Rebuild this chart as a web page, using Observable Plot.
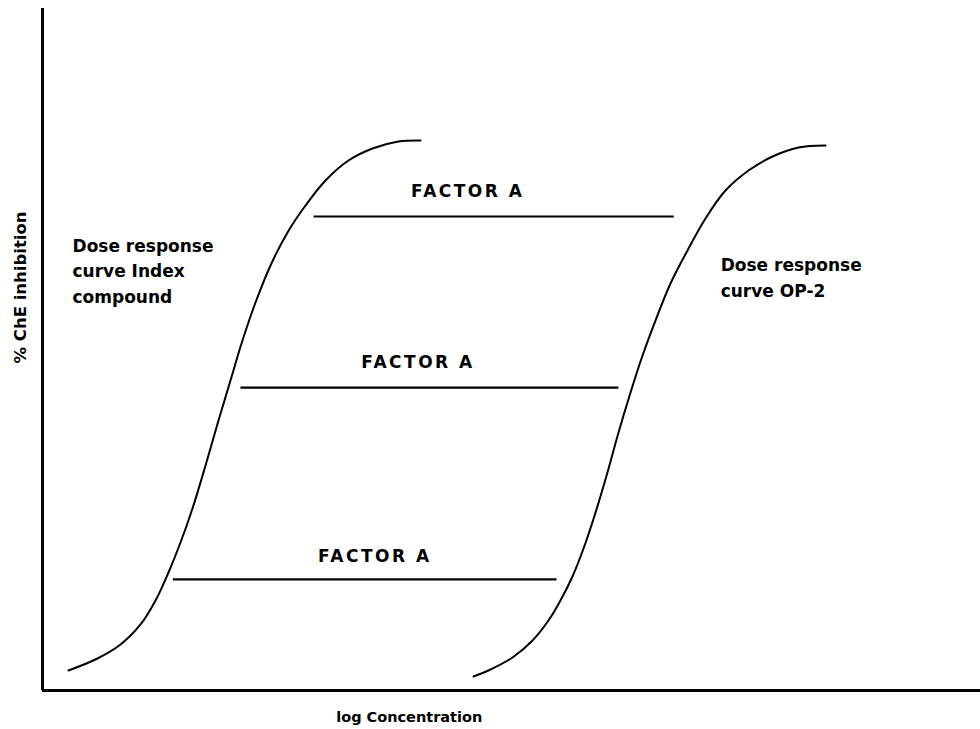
<!DOCTYPE html>
<html>
<head>
<meta charset="utf-8">
<script src="https://cdn.jsdelivr.net/npm/d3@7"></script>
<script src="https://cdn.jsdelivr.net/npm/@observablehq/plot@0.6"></script>
<style>
  html, body { margin: 0; padding: 0; background: #fff; }
  #chart svg { display: block; }
</style>
</head>
<body>
<div id="chart"></div>
<script>
// Dose response curve, index compound (x: log concentration units, y: % inhibition)
const indexX = [2.77, 5.86, 8.32, 10.45, 12.05, 13.43, 14.71, 15.99, 17.38, 18.76, 20.04, 21.32, 22.71, 24.31, 26.12, 28.04, 30.17, 32.62, 35.18, 37.95, 40.30];
const indexY = [2.93, 4.69, 6.74, 9.68, 13.20, 17.30, 21.70, 26.69, 32.99, 39.59, 45.45, 51.32, 56.89, 62.32, 67.16, 71.11, 74.78, 77.71, 79.47, 80.50, 80.65];
// Dose response curve, OP-2
const op2X = [45.95, 47.76, 50.11, 52.24, 53.94, 55.22, 56.50, 57.68, 58.96, 60.23, 61.41, 62.69, 63.97, 65.35, 66.95, 68.76, 70.68, 72.81, 75.27, 77.83, 80.60, 83.48];
const op2Y = [2.05, 3.08, 4.84, 7.33, 10.26, 13.20, 16.72, 20.82, 26.10, 31.96, 37.83, 43.70, 49.12, 54.25, 59.68, 64.52, 69.21, 73.31, 76.25, 78.30, 79.62, 79.91];
// "FACTOR A" horizontal segments
const factorY = [69.5, 44.4, 16.3];
const factorX1 = [28.9, 21.1, 13.9];
const factorX2 = [67.3, 61.4, 54.8];
const factorLabel = ["FACTOR A", "FACTOR A", "FACTOR A"];
const factorLabelX = [45.2, 39.9, 35.3];
const factorLabelY = [73.2, 48.1, 19.6];
// Curve annotations
const curveLabels = ["Dose response\ncurve Index\ncompound", "Dose response\ncurve OP-2"];
const curveLabelX = [3.2, 72.3];
const curveLabelY = [67.0, 64.1];
// Axis titles
const xTitle = "log Concentration";
const yTitle = "% ChE inhibition";

const indexData = indexX.map((x, i) => ({x, y: indexY[i]}));
const op2Data = op2X.map((x, i) => ({x, y: op2Y[i]}));
const segs = factorY.map((y, i) => ({x1: factorX1[i], x2: factorX2[i], y}));
const fLabels = factorLabel.map((t, i) => ({t, x: factorLabelX[i], y: factorLabelY[i]}));
const cLabels = curveLabels.map((t, i) => ({t, x: curveLabelX[i], y: curveLabelY[i]}));

const font = "DejaVu Sans, sans-serif";

const chart = Plot.plot({
  width: 980,
  height: 729,
  marginLeft: 42,
  marginRight: 0,
  marginTop: 8,
  marginBottom: 39,
  style: {fontFamily: font, background: "#fff", color: "#000", overflow: "visible"},
  x: {domain: [0, 100], axis: null},
  y: {domain: [0, 100], axis: null},
  marks: [
    Plot.ruleX([0], {stroke: "#000", strokeWidth: 3}),
    Plot.ruleY([0], {stroke: "#000", strokeWidth: 3}),
    Plot.line(indexData, {x: "x", y: "y", curve: "catmull-rom", stroke: "#000", strokeWidth: 2}),
    Plot.line(op2Data, {x: "x", y: "y", curve: "catmull-rom", stroke: "#000", strokeWidth: 2}),
    Plot.link(segs, {x1: "x1", x2: "x2", y1: "y", y2: "y", stroke: "#000", strokeWidth: 2.2}),
    Plot.text(fLabels, {x: "x", y: "y", text: "t", fontSize: 17, fontWeight: "bold", fill: "#000"}),
    Plot.text(cLabels, {x: "x", y: "y", text: "t", fontSize: 17, fontWeight: "bold", fill: "#000", textAnchor: "start", lineAnchor: "top", lineHeight: 1.5}),
    Plot.text([xTitle], {x: 39.1, y: -4.0, text: d => d, fontSize: 14.5, fontWeight: "bold", fill: "#000"}),
    Plot.text([yTitle], {x: -2.35, y: 59.1, text: d => d, fontSize: 16.5, fontWeight: "bold", fill: "#000", rotate: -90})
  ]
});
// widen the letter spacing of the "FACTOR A" labels, as in the reference
d3.select(chart).selectAll("text")
  .filter(function() { return this.textContent === "FACTOR A"; })
  .attr("letter-spacing", "2.5px")
  .attr("dx", "1.25px");
document.getElementById("chart").appendChild(chart);
</script>
</body>
</html>
